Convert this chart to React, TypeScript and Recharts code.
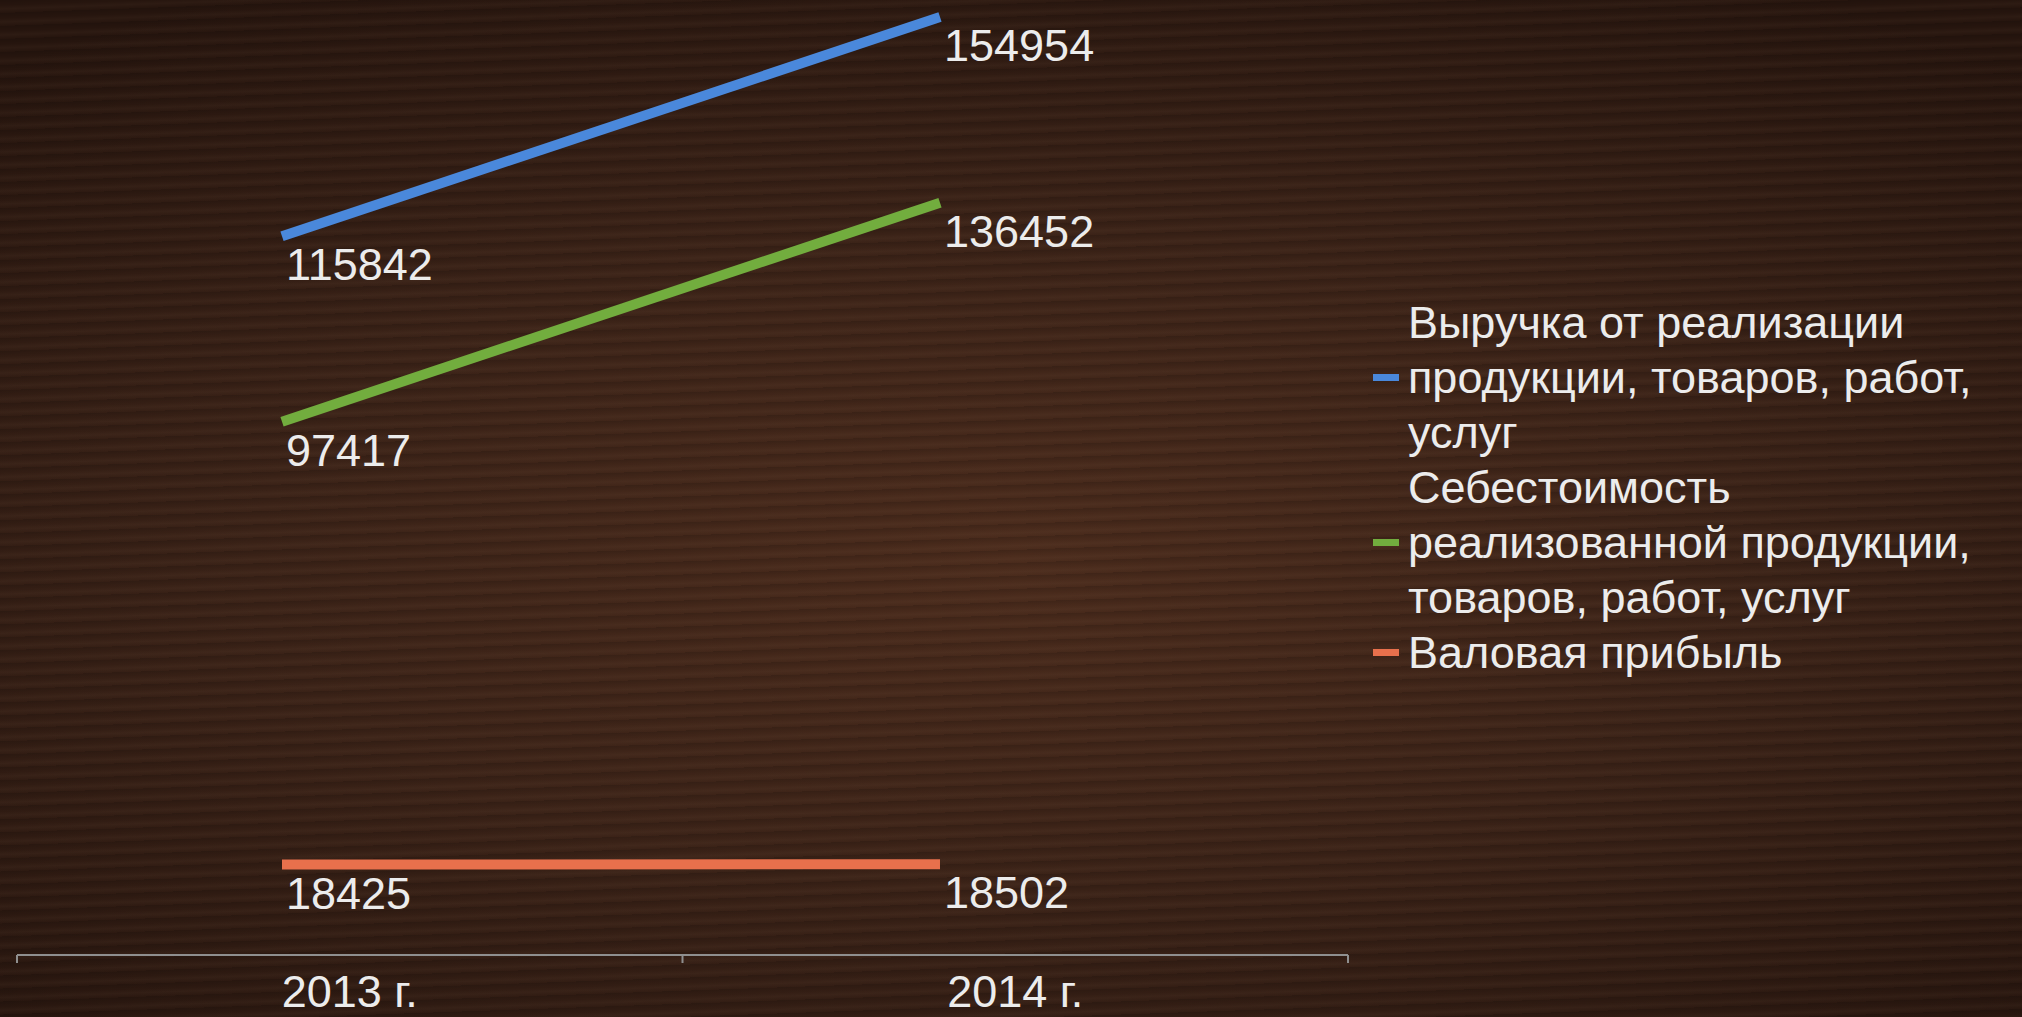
import React from 'react';
import { LineChart, Line, XAxis, YAxis, Legend } from 'recharts';

const years = ['2013 г.', '2014 г.'];
const revenue = [115842, 154954];
const cost = [97417, 136452];
const profit = [18425, 18502];
const seriesNames = [
  'Выручка от реализации продукции, товаров, работ, услуг',
  'Себестоимость реализованной продукции, товаров, работ, услуг',
  'Валовая прибыль',
];

const data = years.map((year, i) => ({
  year,
  revenue: revenue[i],
  cost: cost[i],
  profit: profit[i],
}));

const W = 2022;
const H = 1017;
const PLOT_LEFT = 17;
const PLOT_RIGHT = 1348;
const BAND = (PLOT_RIGHT - PLOT_LEFT) / years.length;
const FONT = '"Liberation Sans", Arial, sans-serif';
const TEXT = '#ececec';

const CategoryTick = (props: any) => {
  const { x, y, payload, index } = props;
  return (
    <g>
      {index === 0 && <line x1={x - BAND / 2} x2={x - BAND / 2} y1={y} y2={y + 8} stroke="#8f8f8f" strokeWidth={2} />}
      <line x1={x + BAND / 2} x2={x + BAND / 2} y1={y} y2={y + 8} stroke="#8f8f8f" strokeWidth={2} />
      <text x={x} y={y + 52} textAnchor="middle" fill={TEXT} fontSize={45} fontFamily={FONT}>
        {payload.value}
      </text>
    </g>
  );
};

const ValueLabel = (props: any) => {
  const { x, y, value } = props;
  return (
    <text x={x + 4} y={y + 44} fill={TEXT} fontSize={45} fontFamily={FONT}>
      {value}
    </text>
  );
};

const renderLegend = (props: any) => {
  const items = [...props.payload].sort(
    (a: any, b: any) => seriesNames.indexOf(a.value) - seriesNames.indexOf(b.value),
  );
  return (
    <div style={{ display: 'flex', flexDirection: 'column' }}>
      {items.map((p: any) => (
        <div key={p.value} style={{ display: 'flex', alignItems: 'center' }}>
          <span style={{ width: 26, height: 7, background: p.color, marginRight: 9, flex: 'none' }} />
          <span style={{ width: 620, lineHeight: '55px', fontSize: 45, color: TEXT, fontFamily: FONT }}>{p.value}</span>
        </div>
      ))}
    </div>
  );
};

export default function App() {
  return (
    <div
      style={{
        position: 'absolute',
        left: 0,
        top: 0,
        width: W,
        height: H,
        overflow: 'hidden',
        background:
          'repeating-linear-gradient(178deg, rgba(0,0,0,0.12) 0px, rgba(0,0,0,0) 5px, rgba(255,200,160,0.035) 9px, rgba(0,0,0,0) 13px), radial-gradient(ellipse 75% 65% at 50% 55%, #4a2b1c 0%, #3a2217 50%, #26150e 100%)',
      }}
    >
      <LineChart
        width={W}
        height={H}
        data={data}
        margin={{ top: 5, right: W - PLOT_RIGHT, bottom: 0, left: PLOT_LEFT }}
      >
        <XAxis
          xAxisId="cat"
          dataKey="year"
          scale="band"
          height={62}
          axisLine={{ stroke: '#8f8f8f', strokeWidth: 2 }}
          tickLine={false}
          tickSize={0}
          tickMargin={0}
          tick={<CategoryTick />}
          interval={0}
        />
        <XAxis xAxisId="pts" dataKey="year" hide height={0} padding={{ left: 265, right: 408 }} />
        <YAxis yAxisId="main" hide type="number" allowDataOverflow domain={[2300, 171730]} />
        <YAxis yAxisId="rev" hide type="number" allowDataOverflow domain={[-12325, 157100]} />
        <Line
          xAxisId="pts"
          yAxisId="rev"
          dataKey="revenue"
          name={seriesNames[0]}
          stroke="#4a88db"
          strokeWidth={10}
          dot={false}
          activeDot={false}
          label={<ValueLabel />}
          isAnimationActive={false}
        />
        <Line
          xAxisId="pts"
          yAxisId="main"
          dataKey="cost"
          name={seriesNames[1]}
          stroke="#72ad3e"
          strokeWidth={10}
          dot={false}
          activeDot={false}
          label={<ValueLabel />}
          isAnimationActive={false}
        />
        <Line
          xAxisId="pts"
          yAxisId="main"
          dataKey="profit"
          name={seriesNames[2]}
          stroke="#e8704c"
          strokeWidth={10}
          dot={false}
          activeDot={false}
          label={<ValueLabel />}
          isAnimationActive={false}
        />
        <Legend
          layout="vertical"
          align="center"
          verticalAlign="middle"
          content={renderLegend}
          wrapperStyle={{ left: 1373, top: 295, width: 649 }}
        />
      </LineChart>
    </div>
  );
}
